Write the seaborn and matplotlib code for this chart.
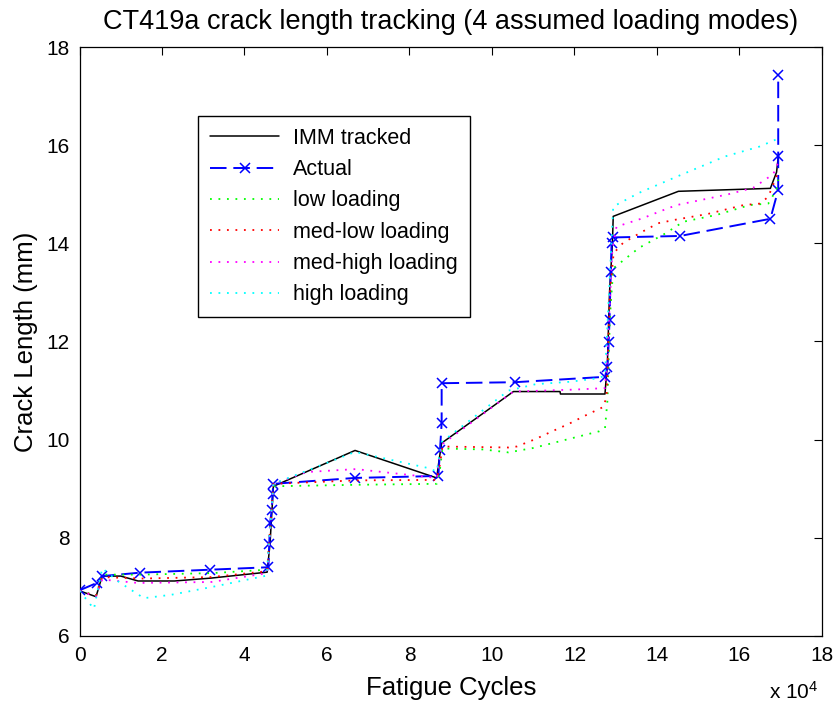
import matplotlib
matplotlib.use("Agg")
import matplotlib.pyplot as plt
import numpy as np
import pandas as pd
import seaborn as sns

# ---------------- data (x in units of 10^4 fatigue cycles, y in mm) ----------------
imm_x = [0.0, 0.40, 0.55, 1.00, 1.42, 2.30, 3.20, 4.55, 4.62, 4.70, 6.68, 8.66, 8.72, 8.78,
         10.52, 11.65, 11.66, 12.74, 12.80, 12.85, 12.92, 12.94, 14.52, 16.75, 16.90, 16.94]
imm_y = [6.92, 6.80, 7.22, 7.22, 7.12, 7.12, 7.18, 7.30, 7.90, 9.05, 9.78, 9.22, 9.60, 9.93,
         10.98, 10.98, 10.93, 10.93, 11.60, 13.00, 14.00, 14.55, 15.06, 15.12, 15.45, 15.75]

act_x = [0.0, 0.42, 0.55, 1.47, 3.16, 4.58, 4.60, 4.62, 4.66, 4.68, 4.70, 6.68, 8.70, 8.74,
         8.78, 8.78, 10.55, 12.74, 12.80, 12.83, 12.85, 12.88, 12.90, 12.93, 14.56, 16.75,
         16.94, 16.94, 16.94]
act_y = [6.93, 7.08, 7.22, 7.29, 7.35, 7.40, 7.88, 8.30, 8.57, 8.90, 9.10, 9.22, 9.26, 9.79,
         10.34, 11.15, 11.17, 11.28, 11.48, 11.98, 12.44, 13.42, 14.00, 14.12, 14.15, 14.50,
         15.09, 15.77, 17.43]

low_x = [0.0, 0.40, 0.55, 1.50, 3.20, 4.55, 4.70, 6.70, 8.66, 8.74, 8.80, 9.80, 10.40, 11.00,
         11.80, 12.60, 12.74, 12.80, 12.86, 12.94, 13.57, 14.20, 14.64, 15.45, 16.25, 16.70,
         16.90, 16.94]
low_y = [6.92, 6.82, 7.25, 7.25, 7.28, 7.35, 9.05, 9.08, 9.10, 9.40, 9.82, 9.80, 9.74, 9.83,
         10.00, 10.17, 10.23, 10.80, 12.50, 13.49, 13.91, 14.20, 14.44, 14.58, 14.78, 14.81,
         15.10, 15.30]

medlow_x = [0.0, 0.40, 0.55, 1.50, 3.20, 4.55, 4.70, 6.70, 8.66, 8.74, 8.80, 10.40, 10.60,
            11.05, 11.46, 11.86, 12.26, 12.71, 12.78, 12.86, 12.95, 13.18, 13.63, 14.03, 14.44,
            15.24, 16.10, 16.50, 16.70, 16.94]
medlow_y = [6.92, 6.82, 7.20, 7.17, 7.20, 7.32, 9.10, 9.17, 9.18, 9.50, 9.86, 9.84, 9.86,
            10.01, 10.17, 10.32, 10.49, 10.67, 10.90, 13.00, 13.80, 14.01, 14.23, 14.41, 14.48,
            14.60, 14.78, 14.81, 14.95, 15.45]

medhigh_x = [0.0, 0.40, 0.55, 1.42, 3.20, 4.55, 4.70, 5.50, 6.70, 8.66, 8.78, 10.52, 12.00,
             12.74, 12.80, 12.92, 13.02, 13.65, 14.07, 14.48, 15.28, 15.73, 16.33, 16.82, 16.94]
medhigh_y = [6.92, 6.80, 7.15, 7.08, 7.10, 7.28, 9.10, 9.34, 9.40, 9.22, 9.90, 10.98, 11.02,
             11.05, 11.80, 13.90, 14.34, 14.51, 14.65, 14.78, 14.92, 15.00, 15.13, 15.41, 15.65]

high_x = [0.0, 0.35, 0.55, 0.94, 1.56, 2.23, 3.28, 4.54, 4.70, 6.68, 8.46, 8.66, 8.78, 10.40,
          11.06, 11.90, 12.55, 12.74, 12.94, 13.57, 14.40, 15.65, 16.48, 16.90]
high_y = [6.92, 6.55, 7.38, 7.11, 6.77, 6.84, 7.01, 7.23, 9.10, 9.75, 9.42, 9.35, 9.95, 11.00,
          11.13, 11.18, 11.25, 11.30, 14.75, 15.03, 15.33, 15.77, 15.97, 16.12]

series_names = ["IMM tracked", "Actual", "low loading", "med-low loading",
                "med-high loading", "high loading"]
x_ticks = [0, 2, 4, 6, 8, 10, 12, 14, 16, 18]
y_ticks = [6, 8, 10, 12, 14, 16, 18]

# ---------------- styling ----------------
sns.set_theme(style="white")
plt.rcParams["font.family"] = ["Liberation Sans", "DejaVu Sans"]
plt.rcParams["mathtext.fontset"] = "custom"
plt.rcParams["mathtext.rm"] = "Liberation Sans"
plt.rcParams["mathtext.it"] = "Liberation Sans"
for k in ["text.color", "axes.labelcolor", "xtick.color", "ytick.color", "axes.edgecolor"]:
    plt.rcParams[k] = "black"

fig, ax = plt.subplots(figsize=(8.37, 7.06), dpi=100)
fig.subplots_adjust(left=0.095, right=0.982, top=0.9334, bottom=0.0992)

dot = (0, (1, 3.7))
specs = [
    (imm_x, imm_y, series_names[0], "black", "-", 1.1, None),
    (act_x, act_y, series_names[1], "#0000ff", (0, (8.5, 3.5)), 1.4, "x"),
    (low_x, low_y, series_names[2], "#00ff00", dot, 1.3, None),
    (medlow_x, medlow_y, series_names[3], "#ff0000", dot, 1.3, None),
    (medhigh_x, medhigh_y, series_names[4], "#ff00ff", dot, 1.3, None),
    (high_x, high_y, series_names[5], "#00ffff", dot, 1.3, None),
]

for i, (xs, ys, name, col, ls, lw, mk) in enumerate(specs):
    df = pd.DataFrame({"cycles": xs, "length": ys})
    n_before = len(ax.lines)
    sns.lineplot(data=df, x="cycles", y="length", sort=False, estimator=None,
                 ax=ax, label=name, color=col, linewidth=lw, linestyle=ls, zorder=2 + i)
    line = ax.lines[n_before]
    line.set_linestyle(ls)
    if mk is not None:
        line.set_marker(mk)
        line.set_markersize(7)
        line.set_markeredgewidth(1.1)
        line.set_markeredgecolor(col)
        line.set_markerfacecolor(col)

ax.set_xlim(0, 18)
ax.set_ylim(6, 18)
ax.set_xticks(x_ticks)
ax.set_yticks(y_ticks)
ax.set_xticklabels([str(t) for t in x_ticks])
ax.set_yticklabels([str(t) for t in y_ticks])
ax.tick_params(direction="in", length=5.8, width=0.8, top=True, right=True,
               labelsize=15, pad=7, colors="black")
for s in ax.spines.values():
    s.set_visible(True)
    s.set_color("black")
    s.set_linewidth(0.9)
ax.grid(False)

ax.set_xlabel("Fatigue Cycles", fontsize=18.5, labelpad=8)
ax.set_ylabel("Crack Length (mm)", fontsize=18.5, labelpad=6)
ax.set_title("CT419a crack length tracking (4 assumed loading modes)", fontsize=19.5, pad=13)

fig.text(818 / 837, 1 - 692 / 706, r"x 10$^{4}$", ha="right", va="center", fontsize=15)

leg = ax.legend(loc="upper left", bbox_to_anchor=(0.16, 0.883), borderaxespad=0,
                fontsize=15.5, handlelength=3.2, handletextpad=0.65, labelspacing=0.48,
                borderpad=0.55, fancybox=False, framealpha=1, edgecolor="black")
leg.get_frame().set_linewidth(1.0)

fig.savefig("out.png", dpi=100, facecolor="white")
